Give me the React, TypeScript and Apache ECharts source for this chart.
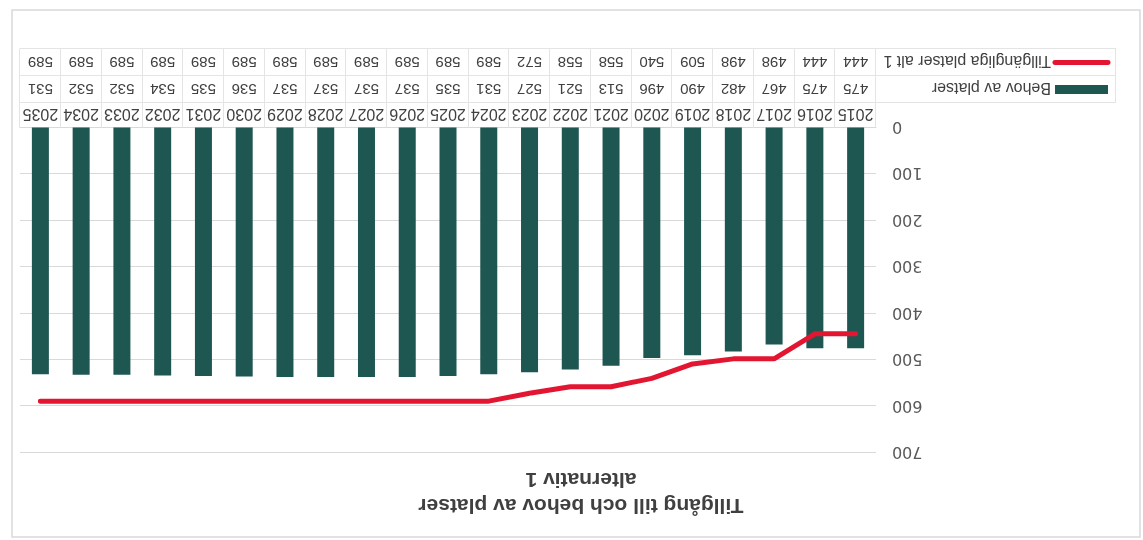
import React, { useEffect, useRef } from "react";
import * as echarts from "echarts";

const years = ["2015","2016","2017","2018","2019","2020","2021","2022","2023","2024","2025","2026","2027","2028","2029","2030","2031","2032","2033","2034","2035"];
const behov = [475, 475, 467, 482, 490, 496, 513, 521, 527, 531, 535, 537, 537, 537, 537, 536, 535, 534, 532, 532, 531];
const tillg = [444, 444, 498, 498, 509, 540, 558, 558, 572, 589, 589, 589, 589, 589, 589, 589, 589, 589, 589, 589, 589];
const yTicks = [0, 100, 200, 300, 400, 500, 600, 700];

const seriesNames = ["Behov av platser", "Tillgängliga platser alt 1"];
const titleText = "Tillgång till och behov av platser\nalternativ 1";

const BAR = "#1E5652";
const RED = "#E31632";
const GRID = "#d9d9d9";
const TABLE = "#e4e4e4";
const TXT = "#404040";
const FONT = "Liberation Sans, Arial, sans-serif";

export default function App() {
  const ref = useRef<HTMLDivElement>(null);
  useEffect(() => {
    if (!ref.current) return;
    const chart = echarts.init(ref.current, undefined, { renderer: "svg" });
    const tableAxis = (data: (string | number)[], offset: number, fs: number, tickLen: number, idx: number) => ({
      type: "category",
      gridIndex: 0,
      position: "bottom",
      offset,
      data: data.map(String),
      boundaryGap: true,
      axisLine: { show: true, lineStyle: { color: idx === 0 ? GRID : TABLE, width: 1 } },
      axisTick: { show: true, interval: 0, length: tickLen, lineStyle: { color: TABLE } },
      axisLabel: {
        interval: 0,
        margin: 13,
        verticalAlign: "middle",
        fontSize: fs,
        color: TXT,
        fontFamily: FONT,
      },
      splitLine: { show: false },
      z: 2 + idx,
    });
    chart.setOption({
      animation: false,
      backgroundColor: "#ffffff",
      grid: { left: 267, right: 20, top: 87.3, bottom: 127.5 },
      xAxis: [
        tableAxis(years, 0, 16, 25, 0),
        tableAxis(behov, 25, 15, 27, 1),
        tableAxis(tillg, 52, 15, 27, 2),
      ],
      yAxis: {
        type: "value",
        min: yTicks[0],
        max: yTicks[yTicks.length - 1],
        interval: 100,
        axisLine: { show: false },
        axisTick: { show: false },
        axisLabel: { fontSize: 16, color: "#595959", margin: 16, fontFamily: "DejaVu Sans, sans-serif" },
        splitLine: { lineStyle: { color: GRID, width: 1 } },
      },
      series: [
        {
          name: seriesNames[0],
          type: "bar",
          xAxisIndex: 0,
          data: behov,
          barWidth: 17,
          itemStyle: { color: BAR },
        },
        {
          name: seriesNames[1],
          type: "line",
          xAxisIndex: 0,
          data: tillg,
          symbol: "none",
          showSymbol: false,
          lineStyle: { color: RED, width: 5, cap: "round", join: "round" },
          itemStyle: { color: RED },
          z: 5,
        },
      ],
      graphic: [
        { type: "rect", shape: { x: 3, y: 3, width: 1128, height: 527 }, style: { fill: "none", stroke: GRID, lineWidth: 1.5 }, silent: true },
        { type: "line", shape: { x1: 27, y1: 437.5, x2: 267, y2: 437.5 }, style: { stroke: TABLE, lineWidth: 1 } },
        { type: "line", shape: { x1: 27, y1: 464.5, x2: 267, y2: 464.5 }, style: { stroke: TABLE, lineWidth: 1 } },
        { type: "line", shape: { x1: 27, y1: 491.5, x2: 1123, y2: 491.5 }, style: { stroke: TABLE, lineWidth: 1 } },
        { type: "line", shape: { x1: 27.5, y1: 437.5, x2: 27.5, y2: 491.5 }, style: { stroke: TABLE, lineWidth: 1 } },
        { type: "rect", shape: { x: 35, y: 446, width: 53, height: 9 }, style: { fill: BAR } },
        { type: "line", shape: { x1: 35, y1: 477.5, x2: 88, y2: 477.5 }, style: { stroke: RED, lineWidth: 5, lineCap: "round" } },
        { type: "text", x: 92, y: 451, style: { text: seriesNames[0], fontSize: 16, fill: TXT, fontFamily: FONT, align: "left", verticalAlign: "middle" } },
        { type: "text", x: 92, y: 478, style: { text: seriesNames[1], fontSize: 16, fill: TXT, fontFamily: FONT, align: "left", verticalAlign: "middle" } },
        { type: "text", x: 562, y: 46, style: { text: titleText, fontSize: 21, fontWeight: "bold", lineHeight: 26, fill: TXT, fontFamily: FONT, align: "center", verticalAlign: "middle" } },
      ],
    });
    return () => chart.dispose();
  }, []);
  return (
    <div
      ref={ref}
      style={{
        position: "fixed",
        left: 0,
        top: 0,
        width: 1143,
        height: 540,
        transform: "rotate(180deg)",
        background: "#fff",
      }}
    />
  );
}
